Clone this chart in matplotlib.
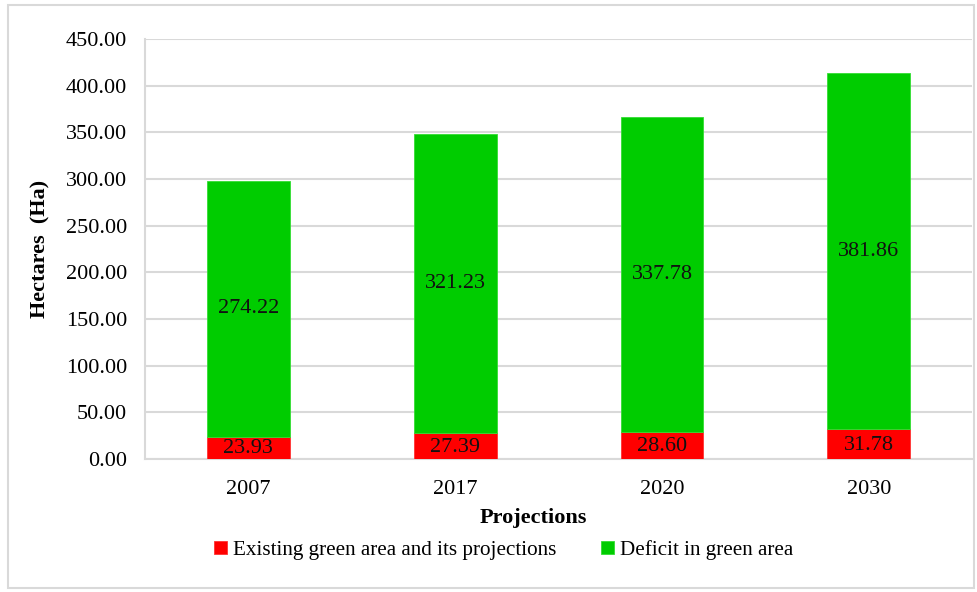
import matplotlib.pyplot as plt
from matplotlib.patches import Rectangle

plt.rcParams['font.family'] = ['Liberation Serif', 'DejaVu Serif']

years = ["2007", "2017", "2020", "2030"]
existing = [23.93, 27.39, 28.60, 31.78]
deficit = [274.22, 321.23, 337.78, 381.86]
yticks = [0, 50, 100, 150, 200, 250, 300, 350, 400, 450]

fs = 16

fig = plt.figure(figsize=(9.78, 5.92), dpi=100)
ax = fig.add_axes([0.1483, 0.2247, 0.8457, 0.7093])

# figure frame
fig.patches.append(Rectangle((0.008, 0.007), 0.988, 0.984, transform=fig.transFigure,
                             fill=False, edgecolor="#d9d9d9", linewidth=1.5))

x = range(len(years))
b1 = ax.bar(x, existing, width=0.4, color="#ff0000", edgecolor="#ff3333", linewidth=0.6,
            label="Existing green area and its projections", zorder=3)
b2 = ax.bar(x, deficit, width=0.4, bottom=existing, color="#00cc00", edgecolor="#33dd33",
            linewidth=0.6, label="Deficit in green area", zorder=3)

for i in x:
    ax.text(i, existing[i] / 2 - 1, f"{existing[i]:.2f}", ha="center", va="center",
            fontsize=fs, color="#111111", zorder=4)
    ax.text(i, existing[i] + deficit[i] / 2, f"{deficit[i]:.2f}", ha="center", va="center",
            fontsize=fs, color="#111111", zorder=4)

ax.set_xlim(-0.5, 3.5)
ax.set_ylim(0, 450)
ax.set_yticks(yticks)
ax.set_yticklabels([f"{v:.2f}" for v in yticks])
ax.set_xticks(list(x))
ax.set_xticklabels(years)
ax.tick_params(axis="y", length=0, pad=13, labelsize=fs)
ax.tick_params(axis="x", length=0, pad=15, labelsize=fs)
ax.grid(axis="y", color="#d9d9d9", linewidth=1.5, zorder=0)

for s in ["top", "right"]:
    ax.spines[s].set_visible(False)
ax.spines["left"].set_color("#d9d9d9")
ax.spines["left"].set_linewidth(1.5)
ax.spines["bottom"].set_color("#d9d9d9")
ax.spines["bottom"].set_linewidth(1.5)

fig.text(0.545, 0.125, "Projections", ha="center", va="center", fontsize=fs,
         fontweight="bold")
fig.text(0.041, 0.58, "Hectares  (Ha)", ha="center", va="center", rotation=90,
         fontsize=fs, fontweight="bold")

fig.legend(handles=[b1, b2], loc="center", bbox_to_anchor=(0.515, 0.071), ncol=2,
           frameon=False, fontsize=15.2, handlelength=0.6, handleheight=0.6,
           handletextpad=0.3, columnspacing=2.1)

fig.savefig("out.png", dpi=100)
